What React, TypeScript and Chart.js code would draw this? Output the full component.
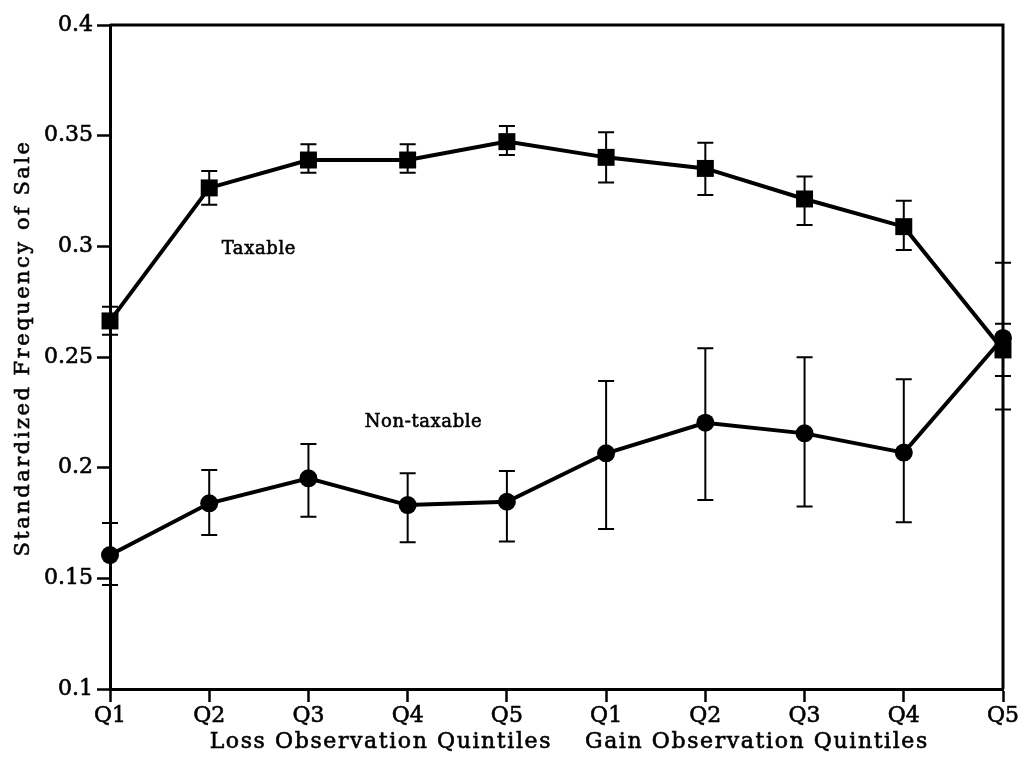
import React, { useEffect, useRef } from "react";
import { Chart, registerables } from "chart.js";

Chart.register(...registerables);

const xTickLabels = ["Q1", "Q2", "Q3", "Q4", "Q5", "Q1", "Q2", "Q3", "Q4", "Q5"];
const yTickLabels = ["0.1", "0.15", "0.2", "0.25", "0.3", "0.35", "0.4"];

const taxable = [0.2663, 0.3264, 0.339, 0.339, 0.3473, 0.3402, 0.3352, 0.3214, 0.3089, 0.2532];
const taxableHi = [0.2727, 0.334, 0.3461, 0.3461, 0.3544, 0.3515, 0.3468, 0.3316, 0.3206, 0.265];
const taxableLo = [0.26, 0.3188, 0.3333, 0.3333, 0.3413, 0.3288, 0.3232, 0.3096, 0.2983, 0.2414];

const nonTaxable = [0.1605, 0.1839, 0.1952, 0.1831, 0.1846, 0.2065, 0.2203, 0.2155, 0.2068, 0.2586];
const nonTaxableHi = [0.175, 0.1989, 0.2107, 0.1975, 0.1985, 0.2392, 0.2539, 0.2499, 0.2399, 0.2926];
const nonTaxableLo = [0.147, 0.1696, 0.1778, 0.1663, 0.1666, 0.1723, 0.1854, 0.1824, 0.1753, 0.2263];

const yTitle = "Standardized Frequency of Sale";
const lossTitle = "Loss Observation Quintiles";
const gainTitle = "Gain Observation Quintiles";
const seriesLabels = [
  { text: "Taxable", x: 1.5, y: 0.2965 },
  { text: "Non-taxable", x: 3.16, y: 0.2183 },
];

const FONT = "'DejaVu Serif', serif";
const TEXT_STROKE = 0.6;

const errorBarPlugin = {
  id: "errorBars",
  beforeDatasetsDraw(chart: any) {
    const ctx = chart.ctx;
    const xs = chart.scales.x;
    const ys = chart.scales.y;
    const sets = [
      { lo: taxableLo, hi: taxableHi },
      { lo: nonTaxableLo, hi: nonTaxableHi },
    ];
    ctx.save();
    ctx.strokeStyle = "#000";
    ctx.lineWidth = 2;
    sets.forEach((s) => {
      s.lo.forEach((lo, i) => {
        const px = xs.getPixelForValue(i);
        const y1 = ys.getPixelForValue(lo);
        const y2 = ys.getPixelForValue(s.hi[i]);
        ctx.beginPath();
        ctx.moveTo(px, y1);
        ctx.lineTo(px, y2);
        ctx.moveTo(px - 8, y1);
        ctx.lineTo(px + 8, y1);
        ctx.moveTo(px - 8, y2);
        ctx.lineTo(px + 8, y2);
        ctx.stroke();
      });
    });
    ctx.restore();
  },
};

function heavyText(ctx: any, text: string, x: number, y: number) {
  ctx.fillText(text, x, y);
  ctx.strokeText(text, x, y);
}

const framePlugin = {
  id: "frameAndText",
  afterDraw(chart: any) {
    const ctx = chart.ctx;
    const { left, right, top, bottom } = chart.chartArea;
    const xs = chart.scales.x;
    const ys = chart.scales.y;
    ctx.save();
    ctx.strokeStyle = "#000";
    ctx.lineWidth = 3;
    ctx.beginPath();
    ctx.moveTo(left, top);
    ctx.lineTo(right, top);
    ctx.lineTo(right, bottom);
    ctx.stroke();

    ctx.fillStyle = "#000";
    ctx.lineWidth = TEXT_STROKE;
    // series labels
    ctx.font = `18px ${FONT}`;
    (ctx as any).letterSpacing = "0.6px";
    ctx.textAlign = "center";
    ctx.textBaseline = "alphabetic";
    seriesLabels.forEach((l) => {
      heavyText(ctx, l.text, xs.getPixelForValue(l.x), ys.getPixelForValue(l.y));
    });

    // x axis group titles
    ctx.font = `22px ${FONT}`;
    (ctx as any).letterSpacing = "1.6px";
    heavyText(ctx, lossTitle, xs.getPixelForValue(2.73), 748);
    heavyText(ctx, gainTitle, xs.getPixelForValue(6.52), 748);

    // y axis title
    ctx.translate(29, 348);
    ctx.rotate(-Math.PI / 2);
    ctx.font = `21px ${FONT}`;
    (ctx as any).letterSpacing = "2.5px";
    heavyText(ctx, yTitle, 0, 0);
    ctx.restore();
  },
};

export default function App() {
  const ref = useRef<HTMLCanvasElement | null>(null);
  useEffect(() => {
    if (!ref.current) return;
    const chart = new Chart(ref.current, {
      type: "line",
      data: {
        datasets: [
          {
            label: "Non-taxable",
            data: nonTaxable.map((v, i) => ({ x: i, y: v })),
            borderColor: "#000",
            backgroundColor: "#000",
            borderWidth: 4,
            pointStyle: "circle",
            pointRadius: 9,
            pointBorderWidth: 0,
            tension: 0,
            clip: false as any,
            order: 1,
          },
          {
            label: "Taxable",
            data: taxable.map((v, i) => ({ x: i, y: v })),
            borderColor: "#000",
            backgroundColor: "#000",
            borderWidth: 4,
            pointStyle: "rect",
            pointRadius: 12,
            pointBorderWidth: 0,
            tension: 0,
            clip: false as any,
            order: 2,
          },
        ],
      },
      options: {
        animation: false,
        responsive: true,
        maintainAspectRatio: false,
        layout: { padding: { left: 0, top: 25, right: 31, bottom: 0 } },
        plugins: {
          legend: { display: false },
          tooltip: { enabled: false },
        },
        scales: {
          x: {
            type: "linear",
            min: 0,
            max: 9,
            ticks: {
              stepSize: 1,
              color: "#000",
              font: { family: FONT, size: 22 },
              textStrokeColor: "#000",
              textStrokeWidth: TEXT_STROKE,
              padding: 1,
              maxRotation: 0,
              autoSkip: false,
              callback: (v: any) => xTickLabels[Math.round(v)] ?? "",
            },
            grid: {
              drawOnChartArea: false,
              drawTicks: true,
              tickLength: 13,
              tickWidth: 2.5,
              tickColor: "#000",
            },
            border: { color: "#000", width: 3 },
            afterFit: (s: any) => {
              s.height = 84;
            },
          },
          y: {
            min: 0.1,
            max: 0.4,
            ticks: {
              stepSize: 0.05,
              color: "#000",
              font: { family: FONT, size: 22 },
              textStrokeColor: "#000",
              textStrokeWidth: TEXT_STROKE,
              padding: 4,
              callback: (v: any) => yTickLabels[Math.round((v - 0.1) / 0.05)] ?? "",
            },
            grid: {
              drawOnChartArea: false,
              drawTicks: true,
              tickLength: 13,
              tickWidth: 2.5,
              tickColor: "#000",
            },
            border: { color: "#000", width: 3 },
            afterFit: (s: any) => {
              s.width = 110;
            },
          },
        },
      } as any,
      plugins: [errorBarPlugin, framePlugin],
    });
    return () => chart.destroy();
  }, []);

  return (
    <div style={{ position: "absolute", left: 0, top: 0, width: 1034, height: 773, background: "#fff" }}>
      <canvas ref={ref} />
    </div>
  );
}
